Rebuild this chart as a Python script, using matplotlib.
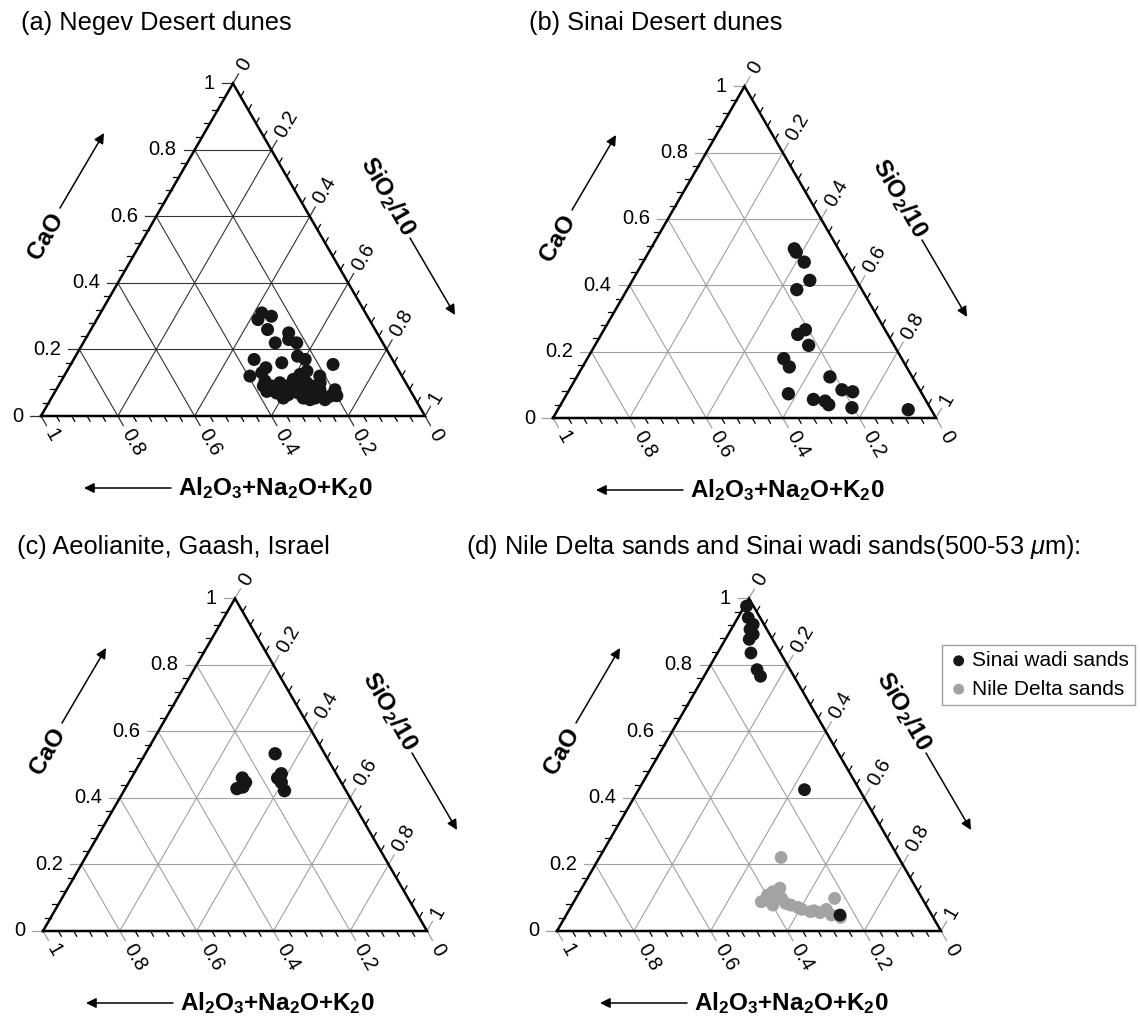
import numpy as np
import matplotlib
matplotlib.use("Agg")
import matplotlib.pyplot as plt

plt.rcParams['font.family'] = ['Liberation Sans', 'DejaVu Sans']
plt.rcParams['mathtext.fontset'] = 'custom'
plt.rcParams['mathtext.rm'] = 'Liberation Sans'
plt.rcParams['mathtext.it'] = 'Liberation Sans:italic'
plt.rcParams['mathtext.bf'] = 'Liberation Sans:bold'

# ternary data: CaO and SiO2/10 fractions, Al2O3+Na2O+K2O = 1 - CaO - SiO2
negev_cao = [0.31, 0.30, 0.29, 0.26, 0.25, 0.23, 0.22, 0.22, 0.17, 0.16, 0.18, 0.17,
             0.155, 0.145, 0.13, 0.12, 0.135, 0.12, 0.125, 0.105, 0.09, 0.10, 0.09, 0.074,
             0.069, 0.069, 0.079, 0.10, 0.079, 0.10, 0.09, 0.069, 0.079, 0.054, 0.059, 0.059,
             0.061, 0.064, 0.079, 0.069, 0.049, 0.049, 0.079, 0.09, 0.11, 0.10, 0.054, 0.054]
negev_sio2 = [0.42, 0.45, 0.42, 0.46, 0.52, 0.53, 0.556, 0.50, 0.47, 0.547, 0.578, 0.603,
              0.683, 0.513, 0.51, 0.484, 0.625, 0.666, 0.612, 0.531, 0.556, 0.572, 0.595, 0.551,
              0.579, 0.601, 0.618, 0.624, 0.644, 0.642, 0.66, 0.675, 0.687, 0.687, 0.706, 0.723,
              0.74, 0.612, 0.561, 0.636, 0.676, 0.715, 0.726, 0.534, 0.602, 0.677, 0.604, 0.656]

sinai_dune_cao = [0.51, 0.50, 0.47, 0.415, 0.387, 0.266, 0.252, 0.219, 0.179, 0.154,
                  0.073, 0.056, 0.051, 0.040, 0.124, 0.085, 0.079, 0.031, 0.025]
sinai_dune_sio2 = [0.375, 0.385, 0.421, 0.463, 0.443, 0.526, 0.513, 0.558, 0.513, 0.540,
                   0.578, 0.652, 0.685, 0.700, 0.661, 0.712, 0.743, 0.765, 0.915]

gaash_cao = [0.46, 0.447, 0.428, 0.433, 0.533, 0.473, 0.46, 0.447, 0.422]
gaash_sio2 = [0.289, 0.304, 0.291, 0.304, 0.338, 0.384, 0.381, 0.397, 0.418]

wadi_cao = [0.977, 0.942, 0.922, 0.907, 0.892, 0.877, 0.836, 0.786, 0.766, 0.425, 0.048]
wadi_sio2 = [0.005, 0.027, 0.050, 0.049, 0.065, 0.062, 0.087, 0.128, 0.147, 0.432, 0.713]

nile_cao = [0.221, 0.088, 0.108, 0.118, 0.129, 0.078, 0.098, 0.078, 0.065, 0.061,
            0.065, 0.098, 0.048, 0.041, 0.093, 0.095, 0.058, 0.055, 0.083, 0.071]
nile_sio2 = [0.473, 0.488, 0.494, 0.503, 0.516, 0.523, 0.536, 0.570, 0.605, 0.639,
             0.669, 0.674, 0.691, 0.718, 0.496, 0.521, 0.631, 0.658, 0.554, 0.592]

titles = ["(a) Negev Desert dunes", "(b) Sinai Desert dunes",
          "(c) Aeolianite, Gaash, Israel",
          r"(d) Nile Delta sands and Sinai wadi sands(500-53 $\mu$m):"]
major = [0, 0.2, 0.4, 0.6, 0.8, 1]
major_lab = ['0', '0.2', '0.4', '0.6', '0.8', '1']
minor = [v for v in np.round(np.arange(0.04, 1.0, 0.04), 2) if round(v / 0.2, 6) % 1 != 0]

FW, FH = 1140, 1018
fig = plt.figure(figsize=(FW / 100, FH / 100), dpi=100)

BLACK = '#161616'
GRAY = '#a3a3a3'


def ternary_panel(bx, by, W, grid_color, title, tpos):
    H = W * np.sqrt(3) / 2
    ax = fig.add_axes([0, 0, 1, 1])
    ax.set_xlim(-bx / W, (FW - bx) / W)
    ax.set_ylim(-(FH - by) / H, by / H)
    ax.axis('off')
    ax.patch.set_alpha(0)

    def p(rx, ry):  # pixel offset from bottom-left vertex (y pointing down) -> data
        return rx / W, -ry / H

    def off(x, y, u, L):  # move data point by L pixels along pixel unit vector u
        return x + L * u[0] / W, y + L * u[1] / H

    # grid
    for v in major[1:-1]:
        ax.plot([v / 2, 1 - v / 2], [v, v], color=grid_color, lw=0.8, zorder=1)
        ax.plot([v, v + (1 - v) / 2], [0, 1 - v], color=grid_color, lw=0.8, zorder=1)
        ax.plot([1 - v, (1 - v) / 2], [0, 1 - v], color=grid_color, lw=0.8, zorder=1)
    # frame
    ax.plot([0, 1, 0.5, 0], [0, 0, 1, 0], color='k', lw=1.8, zorder=3,
            solid_joinstyle='miter')

    ul = (-1.0, 0.0)
    ub = (0.5, -np.sqrt(3) / 2)
    ur = (0.5, np.sqrt(3) / 2)
    rot_b = np.degrees(np.arctan2(ub[1], ub[0]))
    rot_r = np.degrees(np.arctan2(ur[1], ur[0]))

    for vals, L, col in [(minor, 6, 'k'), (major, 11, grid_color)]:
        for t in vals:
            # left: CaO
            x0, y0 = t / 2, t
            x1, y1 = off(x0, y0, ul, L)
            ax.plot([x0, x1], [y0, y1], color=col, lw=0.9, zorder=2, clip_on=False)
            # bottom: Al2O3+Na2O+K2O
            x0, y0 = 1 - t, 0
            x1, y1 = off(x0, y0, ub, L)
            ax.plot([x0, x1], [y0, y1], color=col, lw=0.9, zorder=2, clip_on=False)
            # right: SiO2/10
            x0, y0 = t + (1 - t) / 2, 1 - t
            x1, y1 = off(x0, y0, ur, L)
            ax.plot([x0, x1], [y0, y1], color=col, lw=0.9, zorder=2, clip_on=False)

    for t, lab in zip(major, major_lab):
        x, y = off(t / 2, t, ul, 18)
        ax.text(x, y, lab, ha='right', va='center', fontsize=14.5)
        x, y = off(1 - t, 0, ub, 16)
        ax.text(x, y, lab, ha='left', va='center', fontsize=14.5, rotation=rot_b,
                rotation_mode='anchor')
        x, y = off(t + (1 - t) / 2, 1 - t, ur, 16)
        ax.text(x, y, lab, ha='left', va='center', fontsize=14.5, rotation=rot_r,
                rotation_mode='anchor')

    arrow = dict(arrowstyle='-|>', color='k', lw=1.1, mutation_scale=15,
                 shrinkA=0, shrinkB=0)
    # CaO
    ax.text(*p(5, -180), 'CaO', fontsize=17.5, fontweight='bold', rotation=rot_r,
            ha='center', va='center', rotation_mode='anchor')
    ax.annotate('', xy=p(63, -283), xytext=p(19, -208), arrowprops=arrow)
    # SiO2/10
    ax.text(*p(347, -220), r'$\mathbf{SiO_2/10}$', fontsize=17.5, rotation=rot_b,
            ha='center', va='center', rotation_mode='anchor')
    ax.annotate('', xy=p(414, -101), xytext=p(369, -178), arrowprops=arrow)
    # Al2O3+Na2O+K2O
    ax.text(*p(234, 72), r'$\mathbf{Al_2O_3{+}Na_2O{+}K_20}$', fontsize=17.5,
            ha='center', va='center')
    ax.annotate('', xy=p(43, 72), xytext=p(130, 72), arrowprops=arrow)

    fig.text(tpos[0] / FW, 1 - tpos[1] / FH, title, fontsize=18.3, ha='left', va='center')
    return ax


def xy(cao, sio2):
    cao = np.asarray(cao)
    sio2 = np.asarray(sio2)
    return sio2 + cao / 2, cao


ax_a = ternary_panel(41, 416, 384, '#333333', titles[0], (21, 23))
ax_a.scatter(*xy(negev_cao, negev_sio2), s=88, color=BLACK, edgecolors='none', zorder=5)

ax_b = ternary_panel(553, 418, 383, '#a0a0a0', titles[1], (529, 23))
ax_b.scatter(*xy(sinai_dune_cao, sinai_dune_sio2), s=92, color=BLACK, edgecolors='none', zorder=5)

ax_c = ternary_panel(43, 931, 384, '#a0a0a0', titles[2], (17, 547))
ax_c.scatter(*xy(gaash_cao, gaash_sio2), s=92, color=BLACK, edgecolors='none', zorder=5)

ax_d = ternary_panel(557, 931, 384, '#a0a0a0', titles[3], (466, 547))
h_nile = ax_d.scatter(*xy(nile_cao, nile_sio2), s=85, color=GRAY, edgecolors='none', zorder=5)
h_wadi = ax_d.scatter(*xy(wadi_cao, wadi_sio2), s=85, color=BLACK, edgecolors='none', zorder=6)

fig.legend([h_wadi, h_nile], ['Sinai wadi sands', 'Nile Delta sands'],
           loc='upper left', bbox_to_anchor=(942 / FW, 1 - 645 / FH),
           fontsize=15, frameon=True, fancybox=False, edgecolor='#888888',
           borderpad=0.3, labelspacing=0.45, handletextpad=0.15, handlelength=1.0,
           borderaxespad=0, markerscale=0.85)

fig.savefig('out.png', dpi=100)
